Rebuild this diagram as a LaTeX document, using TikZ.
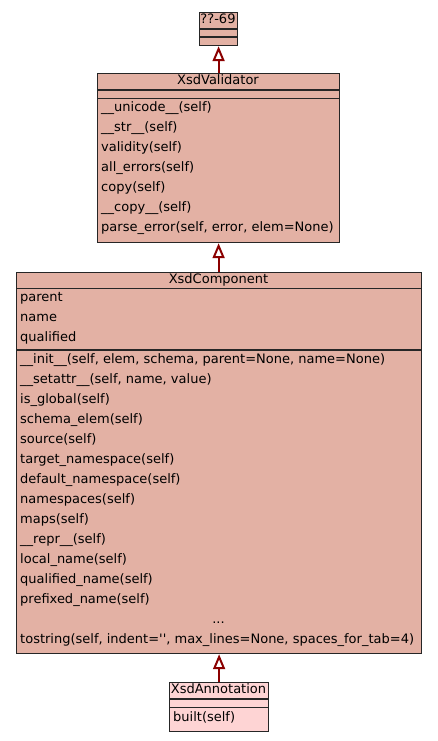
\documentclass[tikz,border=0pt]{standalone}
\usepackage{fontspec}
\newfontfamily\umlfont{DejaVu Sans}
\usetikzlibrary{arrows.meta}
\definecolor{cls}{HTML}{E3B1A4}
\definecolor{clsl}{HTML}{FED4D4}
\definecolor{edgec}{HTML}{8B0000}
\begin{document}
\begin{tikzpicture}[x=1pt,y=-1pt,
  box/.style={draw=black!85, line width=1.2pt, fill=cls, inner sep=0pt, anchor=north west},
  sep/.style={draw=black!85, line width=1.2pt},
  txt/.style={font=\umlfont\fontsize{13}{15}\selectfont, inner sep=0pt, anchor=west, text height=9.5pt, text depth=3pt},
  ttl/.style={font=\umlfont\fontsize{13}{15}\selectfont, inner sep=0pt, text height=9.5pt, text depth=3pt},
  inh/.style={draw=edgec, line width=2pt, -{Triangle[open, length=15pt, width=12pt, fill=white, line width=2pt]}}]
\useasboundingbox (0,0) rectangle (437,741);
\fill[white] (0,0) rectangle (437,741);

% ??-69
\node[box, minimum width=38pt, minimum height=33pt] (c69) at (199,12) {};
\draw[sep] (199,29) -- (237,29);
\draw[sep] (199,37) -- (237,37);
\node[ttl] (t69) at (218,20.5) {??-69};

% XsdValidator
\node[box, minimum width=242pt, minimum height=169pt] (val) at (97,73) {};
\draw[sep] (97,90) -- (339,90);
\draw[sep] (97,98.5) -- (339,98.5);
\node[ttl] (tval) at (218,81.5) {XsdValidator};
\node[txt] (v1) at (101,108) {\_\_unicode\_\_(self)};
\node[txt] (v2) at (101,128) {\_\_str\_\_(self)};
\node[txt] (v3) at (101,148) {validity(self)};
\node[txt] (v4) at (101,168) {all\_errors(self)};
\node[txt] (v5) at (101,188) {copy(self)};
\node[txt] (v6) at (101,208) {\_\_copy\_\_(self)};
\node[txt] (v7) at (101,228) {parse\_error(self, error, elem=None)};

% XsdComponent
\node[box, minimum width=405pt, minimum height=381pt] (comp) at (16,272) {};
\draw[sep] (16,288.5) -- (421,288.5);
\draw[sep] (16,350) -- (421,350);
\node[ttl] (tcomp) at (218.5,280.5) {XsdComponent};
\node[txt] (a1) at (20,298) {parent};
\node[txt] (a2) at (20,318) {name};
\node[txt] (a3) at (20,338) {qualified};
\node[txt] (m1) at (20,360) {\_\_init\_\_(self, elem, schema, parent=None, name=None)};
\node[txt] (m2) at (20,380.5) {\_\_setattr\_\_(self, name, value)};
\node[txt] (m3) at (20,400.5) {is\_global(self)};
\node[txt] (m4) at (20,420.5) {schema\_elem(self)};
\node[txt] (m5) at (20,440.5) {source(self)};
\node[txt] (m6) at (20,460.5) {target\_namespace(self)};
\node[txt] (m7) at (20,480.5) {default\_namespace(self)};
\node[txt] (m8) at (20,500.5) {namespaces(self)};
\node[txt] (m9) at (20,520.5) {maps(self)};
\node[txt] (m10) at (20,540.5) {\_\_repr\_\_(self)};
\node[txt] (m11) at (20,560.5) {local\_name(self)};
\node[txt] (m12) at (20,580.5) {qualified\_name(self)};
\node[txt] (m13) at (20,600.5) {prefixed\_name(self)};
\node[ttl] (m14) at (218.5,620) {...};
\node[txt] (m15) at (20,640) {tostring(self, indent='', max\_lines=None, spaces\_for\_tab=4)};

% XsdAnnotation
\node[box, fill=clsl, minimum width=99pt, minimum height=49pt] (ann) at (169,682) {};
\draw[sep] (169,699) -- (268,699);
\draw[sep] (169,707.5) -- (268,707.5);
\node[ttl] (tann) at (218.5,690.5) {XsdAnnotation};
\node[txt] (an1) at (173,718) {built(self)};

% inheritance
\draw[inh] (val.north -| c69.south) -- (c69.south);
\draw[inh] (comp.north -| val.south) -- (val.south);
\draw[inh] (ann.north) -- (ann.north |- comp.south);
\end{tikzpicture}
\end{document}
